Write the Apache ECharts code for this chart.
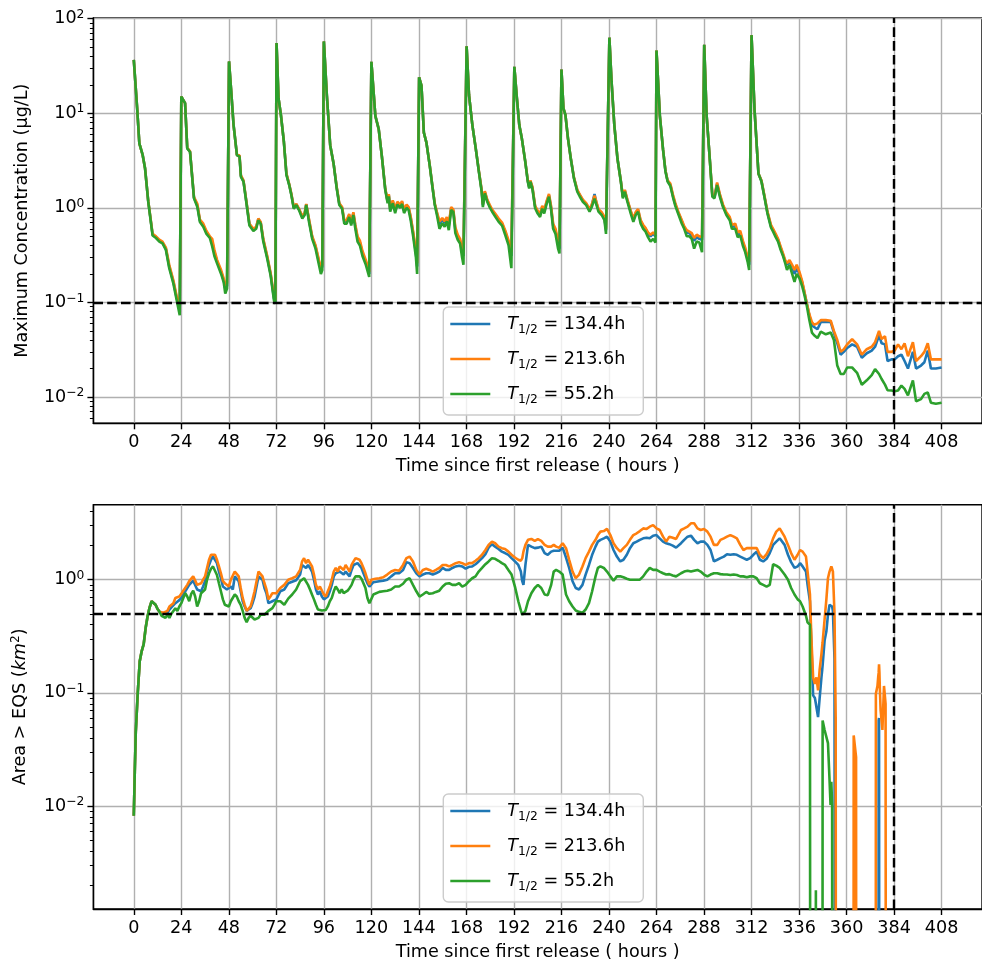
<!DOCTYPE html>
<html>
<head>
<meta charset="utf-8">
<script src="https://cdn.jsdelivr.net/npm/echarts@6.0.0/dist/echarts.min.js"></script>
<style>html,body{margin:0;padding:0;background:#fff}#chart{width:982px;height:962px}</style>
</head>
<body>
<div id="chart"></div>
<script>
// ---------------- DATA ----------------
const SERIES_NAMES = ['T1/2 = 134.4h', 'T1/2 = 213.6h', 'T1/2 = 55.2h'];
const X_TICKS = [0,24,48,72,96,120,144,168,192,216,240,264,288,312,336,360,384,408];
const Y_TICKS_CONC = [0.01, 0.1, 1, 10, 100];
const Y_TICKS_AREA = [0.01, 0.1, 1];
const Y_MINOR_CONC = [0.006,0.007,0.008,0.009,0.02,0.03,0.04,0.05,0.06,0.07,0.08,0.09,0.2,0.3,0.4,0.5,0.6,0.7,0.8,0.9,2,3,4,5,6,7,8,9,20,30,40,50,60,70,80,90];
const Y_MINOR_AREA = [0.002,0.003,0.004,0.005,0.006,0.007,0.008,0.009,0.02,0.03,0.04,0.05,0.06,0.07,0.08,0.09,0.2,0.3,0.4,0.5,0.6,0.7,0.8,0.9,2,3,4];
const CONC_THRESHOLD = 0.1;
const AREA_THRESHOLD = 0.5;
const END_HOUR = 384;

// top panel: Maximum concentration (ug/L)
const HOURS_CONC = [
 0,1.7,2.8,4.5,5.7,7.3,9.5,11.2,12.9,14.5,16.2,17.9,20,21.7,23.2,
 24,25,25.9,27,28.4,30.4,32.1,33.4,35.1,36.7,38.4,39.6,40.7,42.1,44.1,45.4,46.2,47.1,
 48.1,49.1,50.4,52.1,53.4,54.1,55.4,56.8,58.4,60.4,61.8,62.9,64.1,65.4,67.4,69.1,70.8,71.5,
 72.1,73.1,74.3,75.8,77.1,78.5,79.6,80.8,82.1,83.5,85.1,86.3,87.1,88.5,90.1,91.8,93.5,94.5,95.2,
 96,97.5,99.2,100.9,102.5,103.8,105.2,106.3,107.5,108.8,109.8,110.9,111.9,113,114.2,115.5,117.2,118.9,119.5,
 120,122,123.7,125.3,127,128.2,128.8,129.5,130.8,132,133.1,134.5,135.5,136.5,137.8,138.8,139.8,141.1,142.5,143.1,
 144.1,145.3,146.5,147.8,149.5,150.8,152,153.1,154.4,155.8,157,158.1,159.1,160.3,161.4,162.4,163.6,164.8,165.8,166.5,
 168.1,169.3,171,172.7,174.3,175.7,176.3,177.3,178.5,179.7,181,182.7,184.3,186,187.7,189.3,190.7,
 192.2,193.5,194.7,196,197.7,199,199.7,200.3,201.3,202.7,204,205.2,206.3,207.3,208.5,209.7,210.7,211.8,213,214.3,215,
 216,217,218,219.3,220.7,222.3,224,225.3,226.8,228.5,230.2,231.3,232.7,233.7,234.7,236.3,237.7,238.5,239.3,
 240.2,241.3,242.7,244.3,246,247,248,249.3,251,252.3,253.5,254.7,256,257.3,258.5,259.7,261,262.3,263.5,
 264,265.7,267.3,268.5,269.6,271,272.3,273.5,275.1,276.8,278,279.3,280.6,281.8,283,284.3,285.6,287,
 288.1,289.3,291,292.2,293.3,294.6,296,297.6,299.3,301,302.1,303.8,305,306.3,307.6,308.8,310,310.8,
 312,313.5,315.5,317,318.5,320,321,321.8,322.9,324.2,325.4,326.5,327.9,329,329.9,331.2,332.5,333.7,334.8,
 336.2,337.5,338.7,339.8,341.2,342.5,343.6,345.3,347,349.5,352,353.6,355.3,357,358.6,360.3,362.8,365.3,367.7,370.2,
 372.7,374.4,376.4,377.7,379.4,380.7,382.7,384.3,386,387.7,389.3,391,393.5,395.1,397.6,399.3,401,402.6,405.1,408
];
const CONC_T134 = [
 36.7,11.3,4.8,3.6,2.6,1.17,0.52,0.49,0.45,0.43,0.37,0.24,0.165,0.11,0.085,
 15,15.6,12.8,4.28,3.92,1.28,1.06,0.73,0.66,0.55,0.49,0.44,0.34,0.27,0.21,0.17,0.14,0.15,
 35.3,18.4,7.5,3.6,3.55,2.17,1.92,1.18,0.67,0.59,0.62,0.76,0.7,0.46,0.3,0.2,0.11,0.1,
 55.2,14.4,9.6,5,2.28,1.76,1.38,1,1.09,0.96,0.8,0.86,1.09,0.74,0.49,0.39,0.27,0.22,0.24,
 57.5,15.6,4.6,2.95,1.63,1.1,1,0.72,0.72,0.84,0.68,0.88,0.64,0.48,0.43,0.33,0.27,0.2,0.2,
 35,9.4,6.8,3.5,1.58,1.16,1.37,0.96,1.18,0.93,1.13,1.05,1.15,0.93,1.05,1,0.8,0.54,0.33,0.24,
 24,19.6,6.25,4.9,2.78,1.7,1.1,0.88,0.68,0.75,0.69,0.77,0.65,0.99,0.93,0.59,0.5,0.45,0.34,0.31,
 51,15.6,7.5,4.25,2.43,1.52,1.07,1.47,1.2,1.05,0.94,0.83,0.74,0.68,0.55,0.43,0.31,
 31,14.4,7.5,5.4,3.1,1.92,1.65,1.92,1.65,1.03,0.91,0.84,1.02,0.91,1.15,1.36,1.03,0.65,0.57,0.41,0.37,
 29,11.3,9.6,5.4,3.34,2.08,1.52,1.36,1.2,1.1,0.95,1.06,1.4,1.12,0.95,0.88,0.78,0.58,0.58,
 63,21.7,7.5,3.3,1.91,1.3,1.52,1.2,0.91,0.75,0.88,0.95,0.72,0.64,0.6,0.53,0.5,0.53,0.5,
 46,9.4,4.15,2.48,1.93,1.75,1.34,1.09,0.88,0.72,0.62,0.55,0.54,0.51,0.45,0.49,0.47,0.46,
 53,9.6,3.1,1.35,1.3,1.8,1.36,1.05,0.87,0.77,0.63,0.64,0.52,0.54,0.43,0.36,0.29,0.25,
 67,11,2.3,1.93,1.33,0.9,0.88,0.64,0.58,0.51,0.46,0.39,0.32,0.27,0.25,0.27,0.24,0.2,0.23,
 0.2,0.165,0.128,0.1,0.073,0.057,0.055,0.052,0.062,0.062,0.062,0.048,0.037,0.028,0.03,0.033,0.036,0.034,0.026,0.029,
 0.031,0.034,0.045,0.037,0.036,0.024,0.025,0.025,0.027,0.028,0.024,0.02,0.03,0.02,0.0215,0.0233,0.031,0.02,0.02,0.0205
];
const CONC_T213 = [
 36.7,11.3,4.8,3.6,2.6,1.18,0.53,0.5,0.46,0.44,0.38,0.25,0.17,0.115,0.09,
 15,15.6,12.8,4.3,3.95,1.3,1.1,0.75,0.68,0.57,0.5,0.47,0.36,0.28,0.22,0.18,0.15,0.16,
 35.3,18.4,7.5,3.6,3.6,2.2,1.95,1.2,0.68,0.6,0.63,0.77,0.71,0.47,0.31,0.205,0.115,0.105,
 55.2,14.4,9.6,5,2.3,1.78,1.4,1.02,1.1,0.97,0.82,0.88,1.1,0.76,0.5,0.4,0.28,0.23,0.25,
 57.5,15.6,4.6,2.95,1.65,1.12,1.02,0.74,0.74,0.86,0.7,0.9,0.66,0.5,0.45,0.35,0.28,0.21,0.21,
 35,9.4,6.8,3.5,1.6,1.18,1.4,0.98,1.2,0.96,1.16,1.08,1.18,0.96,1.08,1.02,0.82,0.56,0.35,0.26,
 24,19.6,6.25,4.9,2.8,1.72,1.12,0.9,0.72,0.78,0.72,0.8,0.68,1.02,0.96,0.62,0.52,0.47,0.36,0.33,
 51,15.6,7.5,4.25,2.45,1.55,1.1,1.5,1.22,1.08,0.96,0.86,0.77,0.7,0.57,0.45,0.34,
 31,14.4,7.5,5.4,3.1,1.95,1.68,1.95,1.68,1.05,0.93,0.87,1.05,0.94,1.18,1.4,1.06,0.68,0.6,0.44,0.4,
 29,11.3,9.6,5.4,3.35,2.1,1.55,1.38,1.22,1.12,0.97,1.08,1.35,1.14,0.97,0.9,0.8,0.6,0.6,
 63,21.7,7.5,3.3,1.92,1.32,1.55,1.22,0.93,0.77,0.9,0.97,0.74,0.66,0.61,0.55,0.52,0.55,0.52,
 46,9.4,4.15,2.5,1.95,1.8,1.38,1.12,0.9,0.74,0.64,0.58,0.56,0.54,0.48,0.52,0.5,0.49,
 53,9.6,3.1,1.38,1.32,1.85,1.4,1.08,0.9,0.8,0.66,0.68,0.55,0.57,0.45,0.38,0.3,0.27,
 67,11,2.3,1.95,1.35,0.92,0.9,0.66,0.6,0.53,0.47,0.4,0.33,0.28,0.26,0.28,0.25,0.22,0.25,
 0.21,0.17,0.13,0.1,0.075,0.062,0.058,0.06,0.065,0.065,0.064,0.05,0.04,0.03,0.032,0.036,0.041,0.036,0.028,0.032,
 0.034,0.038,0.05,0.041,0.044,0.03,0.03,0.031,0.036,0.032,0.037,0.027,0.038,0.024,0.027,0.03,0.037,0.025,0.025,0.025
];
const CONC_T55 = [
 36.7,11.3,4.8,3.6,2.6,1.16,0.51,0.48,0.44,0.42,0.36,0.23,0.158,0.105,0.073,
 15,15.6,12.8,4.25,3.9,1.26,1.02,0.71,0.63,0.53,0.48,0.39,0.31,0.257,0.2,0.164,0.124,0.14,
 35.3,18.4,7.5,3.6,3.47,2.13,1.89,1.16,0.65,0.57,0.6,0.74,0.68,0.44,0.29,0.193,0.105,0.097,
 55.2,14.4,9.6,5,2.22,1.74,1.36,0.98,1.07,0.94,0.77,0.84,1.07,0.71,0.47,0.37,0.25,0.2,0.22,
 57.5,15.6,4.6,2.95,1.6,1.07,0.98,0.68,0.68,0.8,0.65,0.84,0.6,0.44,0.4,0.31,0.25,0.186,0.18,
 35,9.4,6.8,3.5,1.55,1.12,1.32,0.91,1.12,0.88,1.08,1,1.1,0.88,1,0.95,0.75,0.5,0.3,0.2,
 24,19.6,6.25,4.9,2.76,1.69,1.08,0.84,0.6,0.69,0.63,0.72,0.58,0.95,0.9,0.54,0.46,0.42,0.3,0.25,
 51,15.6,7.5,4.25,2.4,1.48,1.02,1.42,1.16,1.02,0.91,0.8,0.71,0.65,0.51,0.4,0.23,
 31,14.4,7.5,5.4,3.1,1.89,1.6,1.89,1.6,0.99,0.87,0.8,0.98,0.87,1.1,1.31,0.98,0.6,0.53,0.37,0.33,
 29,11.3,9.6,5.4,3.33,2.05,1.48,1.31,1.16,1.07,0.91,1.02,1.25,1.07,0.91,0.84,0.74,0.53,0.53,
 63,21.7,7.5,3.3,1.89,1.26,1.48,1.16,0.87,0.71,0.84,0.91,0.68,0.6,0.56,0.49,0.44,0.47,0.43,
 46,9.4,4.15,2.44,1.9,1.7,1.3,1.05,0.85,0.68,0.6,0.5,0.5,0.47,0.37,0.44,0.43,0.34,
 53,9.6,3.07,1.31,1.26,1.74,1.31,1.02,0.84,0.74,0.6,0.6,0.49,0.51,0.4,0.34,0.27,0.22,
 67,11,2.3,1.9,1.3,0.88,0.85,0.62,0.56,0.49,0.44,0.37,0.31,0.26,0.22,0.25,0.2,0.165,0.2,
 0.18,0.15,0.12,0.095,0.065,0.048,0.045,0.042,0.049,0.046,0.048,0.04,0.0215,0.0175,0.0175,0.0205,0.0205,0.018,0.0135,0.015,
 0.017,0.0197,0.0175,0.0155,0.0135,0.0118,0.0117,0.0115,0.0117,0.0132,0.0122,0.0104,0.015,0.009,0.0095,0.0108,0.0112,0.0087,0.0085,0.0087
];

// bottom panel: Area > EQS (km^2); 0 = no area above EQS
const HOURS_AREA = [
 0,0.5,1,2,3,4,5,6,7,8,9,10,11,12,13,14,15,16,17,18,19,20,21,22,23,24,25,26,27,28,29,30,31,32,33,34,35,36,
 37,38,39,40,41,42,43,44,45,46,47,48,49,50,51,52,53,54,55,56,57,58,59,60,61,62,63,64,65,66,67,68,69,70,71,72,
 74,76,78,80,82,84,
 85,86,87,88,89,90,91,92,93,94,95,96,97,98,99,100,101,102,103,104,105,106,107,108,109,110,111,112,113,114,
 115,116,117,118,119,120,121,122,
 124,126,128,130,132,134,
 136,137.7,139.3,141,142.7,144.3,146,147.7,149.3,151,
 152.6,154.3,156,157.6,159.3,160.9,162.6,164.3,165.9,167.6,
 169.3,170.9,172.6,174.2,175.9,177.6,179.2,180.9,182.5,184.2,
 185.9,187.5,189.2,190.8,192.5,194.2,195.5,196.2,196.8,197.8,
 199.1,200.8,202.5,204.1,205.8,207.5,209.1,210.8,212.1,213.3,
 214.9,216.6,218.3,219.9,221.6,223.2,224.9,226.6,228.2,229.9,
 231.5,233.2,234.4,235.7,237.4,239,240.7,242.3,244,245.7,
 247.3,249,250.6,252.3,254,255.6,257.3,259,260.6,262.3,
 264,265.6,267.3,268.9,270.5,272.2,273.9,276.4,278,279.7,
 281.4,283,284.7,286.3,288,289.7,291.3,293,294.7,296.3,
 298,299.6,301.3,303,304.6,306.3,307.9,309.6,311.3,312.9,
 314.6,316.2,317.9,319.6,321.2,322.9,324.5,326.2,327,328.7,
 330.4,332,333.7,335.3,336.5,337.8,339.5,340.3,
 341.5,341.9,342.4,343.1,344,344.5,344.8,345.6,346.4,347.3,
 347.7,347.9,348.9,349.8,350.6,351.4,351.9,352.3,352.7,353.1,
 353.9,354.5,354.9,363.3,363.6,364.8,365.1,374.6,374.8,375.6,
 376,376.2,376.4,376.6,376.8,377.2,378.1,378.9,379.7,380.1,
 408
];
const AREA_T134 = [
 0.0082,0.02,0.045,0.1,0.19,0.234,0.27,0.376,0.477,0.57,
 0.645,0.667,0.6,0.55,0.52,0.5,0.5,0.5,0.51,0.545,
 0.57,0.59,0.62,0.63,0.66,0.69,0.74,0.77,0.845,0.9,
 0.9,0.98,0.97,0.82,0.8,0.79,0.87,0.97,1.18,1.35,
 1.5,1.6,1.55,1.4,1.18,1.03,0.87,0.845,0.82,0.8,
 0.87,0.82,1.07,1.11,0.97,0.79,0.645,0.58,0.53,0.51,
 0.56,0.62,0.71,0.87,1.07,1.11,1,0.845,0.76,0.62,
 0.6,0.645,0.67,0.67,
 0.79,0.82,0.93,0.96,0.99,1.11,
 1.35,1.4,1.27,1.35,1.27,1.18,1,0.82,0.74,0.79,
 0.71,0.67,0.645,0.71,0.79,0.9,1.07,1.14,1.11,1.18,
 1.18,1.11,1.18,1.14,1.07,1.22,1.35,1.4,1.4,1.35,
 1.27,1.14,1.03,0.93,0.87,0.9,0.95,0.95,
 0.97,0.98,1,1.07,1.14,1.14,
 1.22,1.43,1.4,1.27,1.14,1.07,1.11,1.14,1.14,1.11,
 1.14,1.18,1.27,1.22,1.22,1.27,1.31,1.33,1.31,1.25,
 1.3,1.31,1.37,1.45,1.55,1.68,1.92,2.06,1.96,1.87,
 1.77,1.72,1.66,1.55,1.45,1.35,1.18,0.97,0.9,1.35,
 2.03,1.96,1.9,1.92,1.96,1.72,1.66,1.77,1.8,1.8,
 1.8,1.92,1.57,1.27,0.97,0.845,0.82,0.9,1.11,1.35,
 1.66,1.96,2.17,2.25,2.32,2.4,2.17,1.83,1.6,1.45,
 1.5,1.66,1.9,2.1,2.17,2.25,2.32,2.35,2.32,2.45,
 2.48,2.32,2.17,2.1,2.06,2,1.92,2.1,2.25,2.4,
 2.45,2.25,2.1,2.17,2.17,2.03,1.83,1.45,1.5,1.55,
 1.6,1.68,1.66,1.68,1.66,1.6,1.55,1.5,1.55,1.66,
 1.77,1.5,1.45,1.53,1.72,2.03,2.17,2.32,2.4,2.03,
 1.66,1.43,1.27,1.31,1.4,1.31,1.18,0.9,
 0.645,0.38,0.22,0.095,0.09,0.08,0.074,0.061,0.09,0.137,
 0.16,0.175,0.29,0.35,0.49,0.6,0.62,0.62,0.58,0.53,
 0.2,0,0,0,0,0,0,0,0,0,
 0,0.057,0.06,0.058,0,0,0,0,0,0,
 0
];
const AREA_T213 = [
 0.0082,0.02,0.045,0.1,0.19,0.234,0.27,0.376,0.477,0.57,
 0.645,0.667,0.6,0.55,0.52,0.51,0.51,0.52,0.53,0.58,
 0.6,0.62,0.69,0.67,0.71,0.75,0.8,0.8,0.9,0.97,
 1,1.07,1.03,0.9,0.87,0.93,1,1.07,1.27,1.5,
 1.66,1.72,1.66,1.5,1.31,1.14,0.97,0.93,0.92,0.87,
 1,0.97,1.18,1.18,1.07,0.845,0.69,0.6,0.53,0.51,
 0.58,0.67,0.79,0.97,1.18,1.18,1.07,0.93,0.82,0.67,
 0.71,0.76,0.73,0.76,
 0.845,0.9,1,1.03,1.07,1.22,
 1.45,1.55,1.4,1.5,1.45,1.31,1.11,0.9,0.82,0.87,
 0.845,0.74,0.71,0.79,0.87,1,1.18,1.27,1.18,1.31,
 1.35,1.22,1.35,1.31,1.18,1.35,1.45,1.55,1.55,1.5,
 1.4,1.27,1.14,1,0.9,1,1.03,1.02,
 1.03,1.05,1.11,1.18,1.22,1.2,
 1.35,1.55,1.6,1.45,1.22,1.11,1.22,1.25,1.22,1.18,
 1.22,1.27,1.35,1.35,1.31,1.35,1.4,1.43,1.4,1.35,
 1.4,1.4,1.47,1.55,1.66,1.83,2.03,2.17,2.1,1.96,
 1.9,1.87,1.77,1.66,1.57,1.5,1.47,1.55,1.77,2.03,
 2.25,2.29,2.2,2.28,2.2,2.03,1.96,1.96,2.03,1.96,
 1.92,2.1,1.9,1.5,1.18,1.03,1.11,1.31,1.55,1.77,
 2.03,2.25,2.48,2.66,2.69,2.81,2.48,2.1,1.9,1.77,
 1.9,2.03,2.25,2.48,2.57,2.69,2.84,2.81,2.94,3.04,
 2.84,2.75,2.4,2.17,2.4,2.35,2.29,2.75,2.84,2.94,
 3.15,3.15,2.84,2.75,2.81,2.66,2.4,2.03,2.03,2.25,
 2.32,2.4,2.48,2.4,2.32,2.03,1.83,1.9,1.9,1.9,
 1.9,1.66,1.55,1.68,1.9,2.32,2.66,2.84,2.81,2.4,
 2.03,1.72,1.5,1.66,1.83,1.77,1.6,1.18,
 0.74,0.45,0.26,0.137,0.12,0.13,0.137,0.105,0.16,0.22,
 0.26,0.28,0.445,0.67,1.03,1.18,1.25,1.31,1.25,1.18,
 0.5,0.06,0,0,0.042,0.027,0,0,0.098,0.115,
 0.14,0.15,0.179,0.15,0.11,0.07,0.047,0.115,0.08,0,
 0
];
const AREA_T55 = [
 0.0082,0.02,0.045,0.1,0.19,0.234,0.27,0.376,0.477,0.57,
 0.645,0.667,0.6,0.55,0.52,0.48,0.47,0.46,0.49,0.46,
 0.5,0.51,0.56,0.53,0.58,0.62,0.69,0.76,0.71,0.645,
 0.75,0.8,0.71,0.58,0.645,0.76,0.79,0.82,1,1.14,
 1.25,1.31,1.27,1.1,0.93,0.79,0.67,0.6,0.6,0.58,
 0.645,0.67,0.74,0.71,0.645,0.6,0.53,0.46,0.42,0.46,
 0.48,0.48,0.445,0.43,0.46,0.49,0.48,0.49,0.51,0.53,
 0.535,0.56,0.6,0.645,
 0.645,0.6,0.68,0.74,0.82,0.97,
 1,1.03,1,0.9,0.82,0.74,0.67,0.6,0.545,0.535,
 0.535,0.535,0.54,0.58,0.645,0.69,0.79,0.87,0.82,0.76,
 0.82,0.76,0.78,0.8,0.845,0.9,1,1.07,1.11,1.07,
 1.02,0.93,0.845,0.69,0.62,0.645,0.74,0.76,
 0.78,0.79,0.8,0.82,0.87,0.87,
 0.92,1,1.03,0.9,0.79,0.71,0.74,0.78,0.75,0.76,
 0.78,0.8,0.87,0.92,0.93,0.9,0.9,0.93,0.87,0.9,
 0.97,1.03,1.07,1.18,1.27,1.37,1.45,1.55,1.53,1.47,
 1.4,1.35,1.22,1.11,0.87,0.645,0.535,0.49,0.51,0.53,
 0.645,0.76,0.845,0.9,0.845,0.74,0.73,0.9,1.18,1.22,
 1.18,1.11,0.74,0.645,0.58,0.535,0.52,0.51,0.545,0.62,
 0.79,1.07,1.27,1.31,1.27,1.18,1.07,0.98,1.07,1.07,
 1.05,1.02,1,1,1,1,1.07,1.18,1.27,1.22,
 1.22,1.18,1.14,1.11,1.12,1.09,1.07,1.14,1.18,1.2,
 1.18,1.2,1.22,1.18,1.11,1.07,1.11,1.14,1.14,1.12,
 1.11,1.11,1.1,1.11,1.1,1.07,1.07,1.05,1.07,1.07,
 1.03,0.93,0.9,0.87,0.9,1.37,1.33,1.27,1.22,1.11,
 1,0.845,0.74,0.67,0.645,0.58,0.48,0.42,
 0.4,0,0,0,0,0.0018,0,0,0,0,
 0,0.057,0.047,0.048,0.036,0.017,0.0102,0.0164,0.0102,0,
 0,0,0,0,0,0,0,0,0,0,
 0,0,0,0,0,0,0,0,0,0,
 0
];

// axis limits (as in the picture)
const X_MIN = -20.4, X_MAX = 428.4;
const CONC_Y_MIN = 0.00527, CONC_Y_MAX = 101.7;
const AREA_Y_MIN = 0.00123, AREA_Y_MAX = 4.6;

// ---------------- BUILD ----------------
const COLORS = ['#1f77b4', '#ff7f0e', '#2ca02c'];
const FONT = 'DejaVu Sans';
const FS = 17.6, FS_SMALL = 12.3;
const LINE_W = 2.6;
const LOG_ZERO = -12; // zero values: clipped far below the axis (like matplotlib's log clip)
const lg = v => (v > 0 ? Math.log10(v) : LOG_ZERO);
const pairs = (hours, vals) => hours.map((t, i) => [t, lg(vals[i])]);

let problems = [];
[[HOURS_CONC, CONC_T134, 'c134'], [HOURS_CONC, CONC_T213, 'c213'], [HOURS_CONC, CONC_T55, 'c55'],
 [HOURS_AREA, AREA_T134, 'a134'], [HOURS_AREA, AREA_T213, 'a213'], [HOURS_AREA, AREA_T55, 'a55']]
 .forEach(([h, v, n]) => { if (h.length !== v.length) problems.push(n + ':' + h.length + '/' + v.length); });

const supLabel = v => {
  const e = Math.round(v);
  return '{b|10}{e|' + (e < 0 ? '\u2212' + (-e) : String(e)) + '}';
};
const labelRich = {
  b: { fontSize: FS, fontFamily: FONT, color: '#000', lineHeight: 20 },
  e: { fontSize: FS_SMALL, fontFamily: FONT, color: '#000', lineHeight: 13, verticalAlign: 'top' }
};

const GRIDS = [
  { left: 93.4, top: 18, width: 899, height: 405.3 },
  { left: 93.4, top: 504.7, width: 899, height: 406 }
];

function xAxisFor(gi) {
  return {
    type: 'value', gridIndex: gi, min: X_MIN, max: X_MAX,
    axisLine: { show: true, onZero: false, lineStyle: { color: '#000', width: 1.4 } },
    axisTick: { show: true, customValues: X_TICKS, length: 6, lineStyle: { color: '#000', width: 1.4 } },
    axisLabel: { show: true, customValues: X_TICKS, margin: 10, fontSize: FS, fontFamily: FONT, color: '#000' },
    splitLine: { show: true, lineStyle: { color: '#b0b0b0', width: 1.4 } },
    name: 'Time since first release ( hours )', nameLocation: 'middle', nameGap: 34,
    nameTextStyle: { fontSize: FS, fontFamily: FONT, color: '#000' }
  };
}
function yMainFor(gi, min, max, ticks, name, nameRich) {
  const tv = ticks.map(Math.log10);
  const a = {
    type: 'value', gridIndex: gi, position: 'left', min: Math.log10(min), max: Math.log10(max),
    axisLine: { show: true, onZero: false, lineStyle: { color: '#000', width: 1.4 } },
    axisTick: { show: true, customValues: tv, length: 6, lineStyle: { color: '#000', width: 1.4 } },
    axisLabel: { show: true, customValues: tv, margin: 9, formatter: supLabel, rich: labelRich },
    splitLine: { show: true, lineStyle: { color: '#b0b0b0', width: 1.4 } },
    name: name, nameLocation: 'middle', nameGap: 62,
    nameTextStyle: { fontSize: FS, fontFamily: FONT, color: '#000' }
  };
  if (nameRich) a.nameTextStyle.rich = nameRich;
  return a;
}
function yMinorFor(gi, min, max, minors) {
  return {
    type: 'value', gridIndex: gi, position: 'left', min: Math.log10(min), max: Math.log10(max),
    axisLine: { show: false, onZero: false },
    axisTick: { show: true, customValues: minors.map(Math.log10), length: 3.5, lineStyle: { color: '#000', width: 1 } },
    axisLabel: { show: false },
    splitLine: { show: false }
  };
}

const areaNameRich = {
  n: { fontSize: FS, fontFamily: FONT, color: '#000', lineHeight: 22 },
  i: { fontSize: FS, fontFamily: FONT, fontStyle: 'italic', color: '#000', lineHeight: 22 },
  e: { fontSize: FS_SMALL, fontFamily: FONT, color: '#000', lineHeight: 14, verticalAlign: 'top' }
};

function makeSeries(xi, yi, hours, arrays, thr) {
  return arrays.map((vals, k) => {
    const s = {
      name: SERIES_NAMES[k], type: 'line', xAxisIndex: xi, yAxisIndex: yi,
      data: pairs(hours, vals), symbol: 'none', showSymbol: false, clip: true,
      lineStyle: { color: COLORS[k], width: LINE_W }, itemStyle: { color: COLORS[k] },
      emphasis: { disabled: true }, z: 2 + k
    };
    if (k === arrays.length - 1) {
      s.markLine = {
        silent: true, symbol: ['none', 'none'], label: { show: false },
        lineStyle: { color: '#000', type: [9.6, 4.2], width: 2.4 },
        emphasis: { disabled: true },
        data: [{ yAxis: Math.log10(thr) }, { xAxis: END_HOUR }]
      };
    }
    return s;
  });
}

const legendRich = {
  i: { fontSize: FS, fontFamily: FONT, fontStyle: 'italic', color: '#000', lineHeight: 24, padding: [0, 0, 0, 12] },
  s: { fontSize: FS_SMALL, fontFamily: FONT, color: '#000', lineHeight: 14, verticalAlign: 'bottom' },
  n: { fontSize: FS, fontFamily: FONT, color: '#000', lineHeight: 24 }
};
function legendFor(top) {
  return {
    data: SERIES_NAMES, orient: 'vertical', left: 443.3, top: top,
    icon: 'rect', itemWidth: 40, itemHeight: LINE_W, itemGap: 14,
    padding: [8, 18, 9, 7],
    backgroundColor: 'rgba(255,255,255,0.8)', borderColor: '#cccccc', borderWidth: 1.4, borderRadius: 5,
    selectedMode: false,
    formatter: name => {
      const rest = name.split(' = ')[1];
      return '{i|T}{s|1/2}{n| = ' + rest + '}';
    },
    textStyle: { rich: legendRich, fontFamily: FONT, fontSize: FS }
  };
}

const option = {
  animation: false,
  backgroundColor: '#fff',
  textStyle: { fontFamily: FONT },
  grid: GRIDS.map(g => Object.assign({ show: true, borderColor: '#000', borderWidth: 1.4, backgroundColor: 'transparent', containLabel: false }, g)),
  xAxis: [xAxisFor(0), xAxisFor(1)],
  yAxis: [
    yMainFor(0, CONC_Y_MIN, CONC_Y_MAX, Y_TICKS_CONC, 'Maximum Concentration (\u03bcg/L)'),
    yMinorFor(0, CONC_Y_MIN, CONC_Y_MAX, Y_MINOR_CONC),
    yMainFor(1, AREA_Y_MIN, AREA_Y_MAX, Y_TICKS_AREA, '{n|Area > EQS (}{i|km}{e|2}{n|)}', areaNameRich),
    yMinorFor(1, AREA_Y_MIN, AREA_Y_MAX, Y_MINOR_AREA)
  ],
  legend: [legendFor(307), legendFor(794)],
  series: [].concat(
    makeSeries(0, 0, HOURS_CONC, [CONC_T134, CONC_T213, CONC_T55], CONC_THRESHOLD),
    makeSeries(1, 2, HOURS_AREA, [AREA_T134, AREA_T213, AREA_T55], AREA_THRESHOLD)
  )
};
if (problems.length) option.title = { text: 'LEN ' + problems.join(' '), left: 300, top: 200 };

const chart = echarts.init(document.getElementById('chart'), null, { renderer: 'canvas' });
chart.setOption(option);
</script>
</body>
</html>
